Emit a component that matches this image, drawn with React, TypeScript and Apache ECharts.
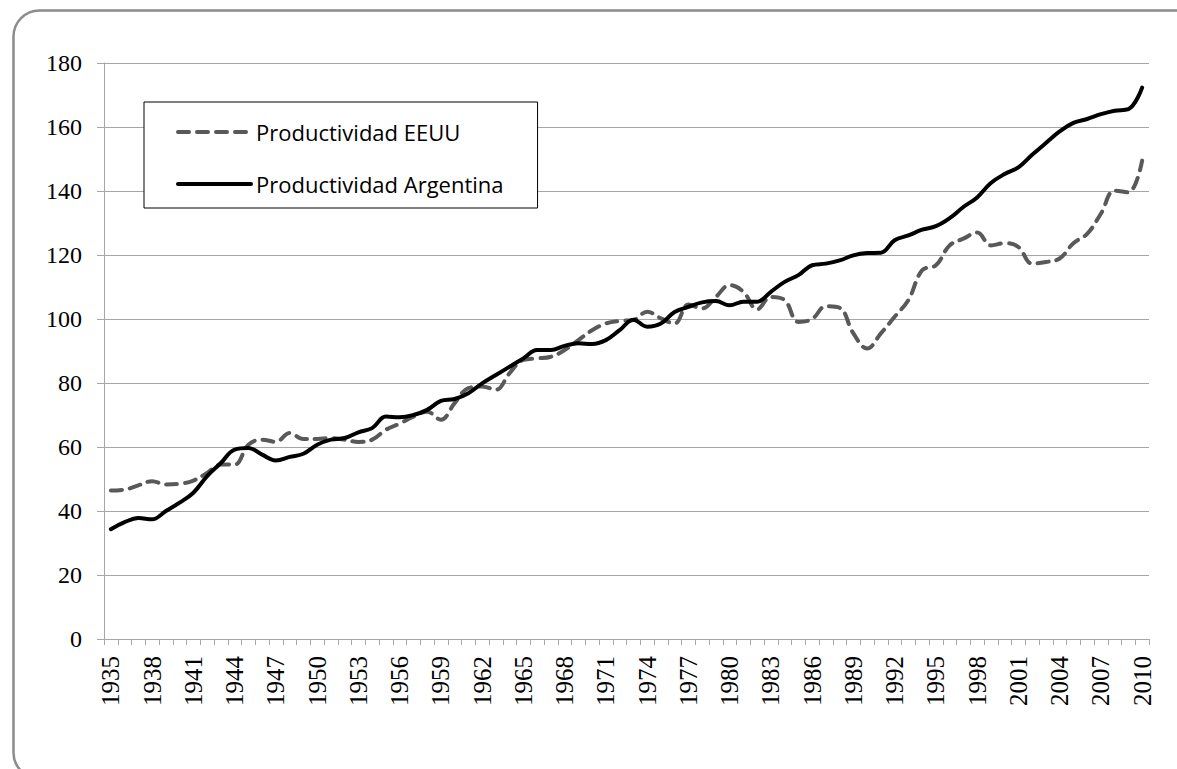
import React, { useEffect, useRef } from "react";
import * as echarts from "echarts";

const years: string[] = [
  "1935", "1936", "1937", "1938", "1939", "1940", "1941", "1942", "1943", "1944",
  "1945", "1946", "1947", "1948", "1949", "1950", "1951", "1952", "1953", "1954",
  "1955", "1956", "1957", "1958", "1959", "1960", "1961", "1962", "1963", "1964",
  "1965", "1966", "1967", "1968", "1969", "1970", "1971", "1972", "1973", "1974",
  "1975", "1976", "1977", "1978", "1979", "1980", "1981", "1982", "1983", "1984",
  "1985", "1986", "1987", "1988", "1989", "1990", "1991", "1992", "1993", "1994",
  "1995", "1996", "1997", "1998", "1999", "2000", "2001", "2002", "2003", "2004",
  "2005", "2006", "2007", "2008", "2009", "2010",
];

const productividadEEUU: number[] = [
  46.4, 46.7, 48.0, 49.3, 48.3, 48.5, 49.5, 51.9, 54.5, 54.5,
  60.7, 62.3, 61.6, 64.4, 62.5, 62.5, 62.8, 62.3, 61.6, 62.3,
  65.4, 67.3, 69.5, 71.0, 68.5, 73.7, 78.4, 78.9, 77.9, 83.1,
  87.2, 87.7, 88.2, 90.3, 93.4, 96.5, 98.6, 99.4, 99.7, 102.3,
  100.2, 98.6, 104.5, 103.3, 106.9, 110.6, 108.5, 103.0, 106.9, 105.9,
  99.1, 100.0, 104.0, 103.5, 95.5, 90.8, 95.5, 100.7, 105.9, 115.2,
  116.8, 123.0, 125.1, 127.0, 123.0, 123.7, 122.5, 117.3, 117.8, 118.9,
  123.7, 126.6, 132.9, 140.1, 139.6, 149.5,
];

const productividadArgentina: number[] = [
  34.3, 36.5, 37.8, 37.4, 40.0, 42.6, 45.7, 50.9, 55.0, 59.2,
  59.7, 57.6, 55.8, 56.9, 57.9, 60.7, 62.3, 62.8, 64.6, 65.9,
  69.5, 69.3, 70.0, 71.6, 74.4, 75.0, 76.8, 79.9, 82.5, 85.1,
  87.7, 90.3, 90.3, 91.6, 92.4, 92.2, 93.4, 96.5, 99.8, 97.6,
  98.6, 102.2, 103.8, 105.2, 105.6, 104.3, 105.4, 105.4, 108.5, 111.6,
  113.7, 116.8, 117.3, 118.3, 119.9, 120.6, 120.7, 124.6, 126.1, 127.9,
  129.0, 131.5, 135.0, 138.0, 142.5, 145.3, 147.4, 151.3, 155.0, 158.6,
  161.3, 162.5, 164.0, 165.1, 165.6, 172.3,
];

const seriesNames: string[] = ["Productividad EEUU", "Productividad Argentina"];

export default function App() {
  const ref = useRef<HTMLDivElement>(null);

  useEffect(() => {
    if (!ref.current) return;
    const chart = echarts.init(ref.current, null, { renderer: "svg" });
    const gridColor = "#a6a6a6";
    chart.setOption({
      animation: false,
      backgroundColor: "#ffffff",
      graphic: [
        {
          type: "rect",
          left: 11,
          top: 8,
          shape: { x: 0, y: 0, width: 1195, height: 768, r: 26 },
          style: { fill: "none", stroke: "#8c8c8c", lineWidth: 2.5 },
          silent: true,
          z: 0,
        },
      ],
      grid: { left: 104, right: 28, top: 63, bottom: 130, containLabel: false },
      legend: {
        orient: "vertical",
        left: 144,
        top: 102,
        padding: [18, 34, 12, 32],
        borderColor: "#000000",
        borderWidth: 1,
        backgroundColor: "#ffffff",
        itemWidth: 73,
        itemHeight: 14,
        itemGap: 28,
        itemStyle: { opacity: 0, borderWidth: 0 },
        lineStyle: { width: 4, cap: "round" },
        textStyle: {
          fontFamily: "Open Sans",
          fontSize: 22,
          lineHeight: 24,
          color: "#000000",
        },
        data: seriesNames,
      },
      xAxis: {
        type: "category",
        data: years,
        boundaryGap: true,
        axisLine: { show: true, lineStyle: { color: gridColor, width: 1 } },
        axisTick: { show: true, interval: 0, length: 6, lineStyle: { color: gridColor } },
        axisLabel: {
          interval: 2,
          rotate: 90,
          margin: 17,
          fontFamily: "Liberation Serif",
          fontSize: 25,
          color: "#000000",
        },
        splitLine: { show: false },
      },
      yAxis: {
        type: "value",
        min: 0,
        max: 180,
        interval: 20,
        axisLine: { show: true, lineStyle: { color: gridColor, width: 1 } },
        axisTick: { show: true, length: 7, lineStyle: { color: gridColor } },
        axisLabel: {
          margin: 22,
          fontFamily: "Liberation Serif",
          fontSize: 24,
          color: "#000000",
        },
        splitLine: { show: true, lineStyle: { color: gridColor, width: 1 } },
      },
      series: [
        {
          name: seriesNames[0],
          type: "line",
          data: productividadEEUU,
          smooth: 0.4,
          symbol: "none",
          lineStyle: { color: "#595959", width: 4, type: [11, 8], cap: "round" },
          itemStyle: { color: "#595959" },
          z: 2,
        },
        {
          name: seriesNames[1],
          type: "line",
          data: productividadArgentina,
          smooth: 0.4,
          symbol: "none",
          lineStyle: { color: "#000000", width: 4, type: "solid", cap: "round" },
          itemStyle: { color: "#000000" },
          z: 3,
        },
      ],
    });
    return () => chart.dispose();
  }, []);

  return (
    <div
      ref={ref}
      style={{ position: "fixed", left: 0, top: 0, width: 1177, height: 769 }}
    />
  );
}
